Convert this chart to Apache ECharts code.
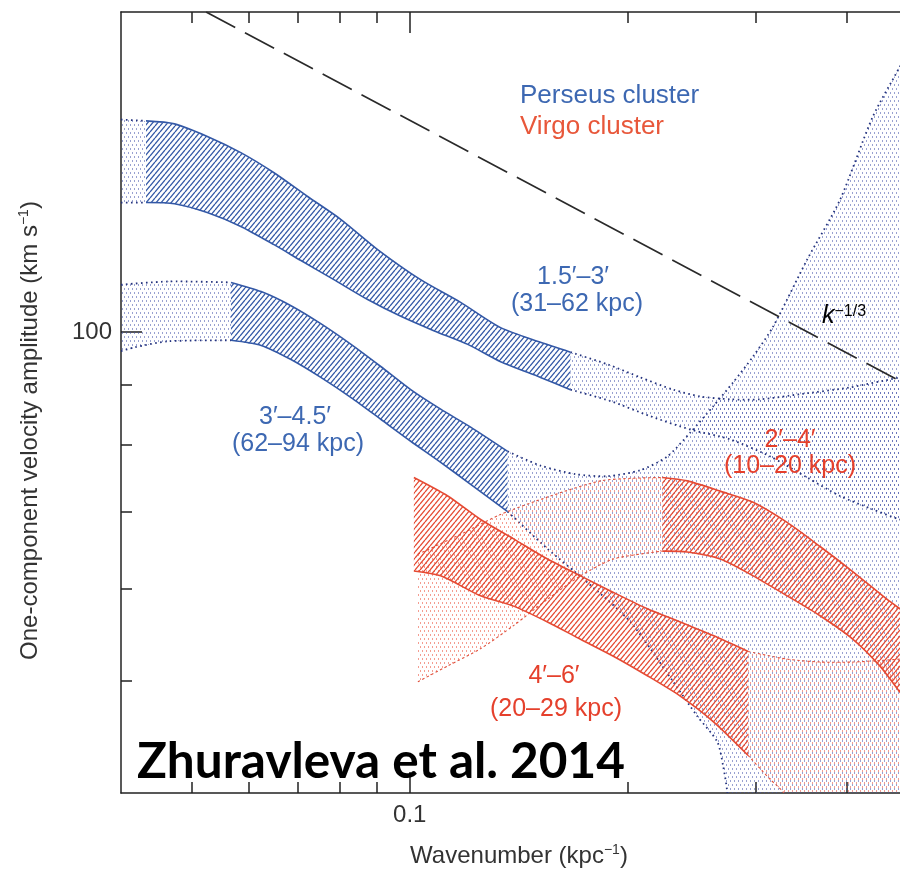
<!DOCTYPE html>
<html>
<head>
<meta charset="utf-8">
<script src="https://cdn.jsdelivr.net/npm/echarts@6/dist/echarts.min.js"></script>
<style>
  html, body { margin: 0; padding: 0; background: #ffffff; }
  #chart { width: 900px; height: 869px; }
</style>
</head>
<body>
<div id="chart"></div>
<script>
// Log-log axes: wavenumber k (kpc^-1) against one-component velocity amplitude (km/s)
const xRange = [0.04, 0.5];
const yRange = [40, 189];
const xMinorTicks = [0.05, 0.06, 0.07, 0.08, 0.09, 0.2, 0.3, 0.4];
const xMajorTicks = [0.1];
const xTickLabels = ['0.1'];
const yMinorTicks = [50, 60, 70, 80, 90];
const yMajorTicks = [100];
const yTickLabels = ['100'];

// Perseus 1.5'-3' (31-62 kpc): [k, amplitude] along the band edges
const p15LeftUpper = [[0.0400, 152.6], [0.0433, 152.2]];
const p15LeftLower = [[0.0400, 129.4], [0.0433, 129.4]];
const p15Upper = [[0.0433, 152.2], [0.0474, 151.3], [0.0527, 147.5], [0.0585, 142.9], [0.0650, 137.3], [0.0724, 130.9], [0.0804, 125.1], [0.0904, 117.8], [0.1035, 111.0], [0.1175, 106.1], [0.1334, 100.9], [0.1514, 98.0], [0.1665, 96.1]];
const p15Lower = [[0.0433, 129.4], [0.0474, 129.1], [0.0527, 126.8], [0.0585, 123.4], [0.0650, 119.0], [0.0708, 115.3], [0.0786, 111.0], [0.0875, 106.7], [0.0972, 103.2], [0.1079, 100.3], [0.1202, 97.6], [0.1334, 94.3], [0.1514, 91.4], [0.1665, 89.2]];
const p15RightUpper = [[0.1665, 96.1], [0.1873, 93.8], [0.2079, 91.4], [0.2307, 89.2], [0.2514, 88.0], [0.2764, 87.5], [0.3040, 87.5], [0.3450, 88.4], [0.4042, 89.6], [0.4735, 91.4], [0.5, 91.9]];
const p15RightLower = [[0.1665, 89.2], [0.1890, 87.2], [0.2146, 84.6], [0.2435, 82.4], [0.2764, 80.8], [0.3138, 78.1], [0.3528, 74.9], [0.3916, 72.2], [0.4346, 70.3], [0.4735, 68.9], [0.5, 68.3]];

// Perseus 3'-4.5' (62-94 kpc)
const p30LeftUpper = [[0.0400, 109.9], [0.0465, 110.6], [0.0567, 110.4]];
const p30LeftLower = [[0.0400, 96.3], [0.0417, 97.0], [0.0465, 98.2], [0.0567, 98.4]];
const p30Upper = [[0.0567, 110.4], [0.0624, 108.4], [0.0686, 105.4], [0.0754, 101.7], [0.0830, 97.6], [0.0912, 93.4], [0.1003, 89.2], [0.1103, 85.8], [0.1213, 82.8], [0.1364, 78.9]];
const p30Lower = [[0.0567, 98.4], [0.0624, 97.4], [0.0686, 94.7], [0.0754, 91.4], [0.0830, 87.8], [0.0912, 84.1], [0.1003, 80.5], [0.1103, 77.2], [0.1213, 73.9], [0.1364, 70.0]];
const p30RightUpper = [[0.1364, 78.9], [0.1514, 76.7], [0.1692, 75.4], [0.1873, 75.1], [0.2079, 76.0], [0.2264, 78.1], [0.2435, 81.9], [0.2619, 86.3], [0.2790, 90.5], [0.2973, 95.3], [0.3167, 101.1], [0.3528, 115.5], [0.3916, 130.1], [0.4346, 153.5], [0.4735, 169.5], [0.5, 180.6]];
const p30RightLower = [[0.1364, 70.0], [0.1548, 65.0], [0.1757, 60.8], [0.2014, 56.2], [0.2307, 49.9], [0.2490, 46.6], [0.2653, 44.3], [0.2703, 42.2], [0.2738, 40.1], [0.2750, 38.0], [0.5, 38.0]];

// Virgo 2'-4' (10-20 kpc)
const v20LeftUpper = [[0.1026, 64.3], [0.1175, 66.9], [0.1334, 69.6], [0.1563, 72.2], [0.1831, 74.4], [0.2033, 74.8], [0.2228, 74.9]];
const v20LeftLower = [[0.1026, 49.9], [0.1128, 51.5], [0.1252, 53.3], [0.1390, 55.8], [0.1548, 58.8], [0.1719, 61.6], [0.1908, 63.7], [0.2228, 64.7]];
const v20Upper = [[0.2228, 74.9], [0.2412, 74.4], [0.2678, 72.9], [0.2973, 71.3], [0.3311, 68.5], [0.3676, 65.3], [0.4081, 62.1], [0.4544, 58.8], [0.4735, 57.7], [0.5, 56.3]];
const v20Lower = [[0.2228, 64.7], [0.2412, 64.6], [0.2678, 63.7], [0.2973, 61.6], [0.3311, 59.2], [0.3676, 56.9], [0.4081, 54.3], [0.4443, 51.5], [0.4735, 48.9], [0.5, 46.8]];

// Virgo 4'-6' (20-29 kpc)
const v40Upper = [[0.1013, 74.9], [0.1128, 72.2], [0.1252, 68.9], [0.1390, 66.3], [0.1548, 63.7], [0.1719, 61.6], [0.1908, 59.6], [0.2125, 57.7], [0.2359, 56.2], [0.2619, 54.7], [0.2926, 53.0]];
const v40Lower = [[0.1013, 62.2], [0.1103, 61.6], [0.1252, 59.2], [0.1390, 58.0], [0.1548, 56.2], [0.1719, 54.3], [0.1908, 52.5], [0.2125, 50.5], [0.2359, 48.5], [0.2619, 46.1], [0.2926, 43.1]];
const v40RightUpper = [[0.2926, 53.0], [0.3311, 52.2], [0.3676, 51.9], [0.4081, 51.9], [0.4735, 52.2], [0.5, 52.4]];
const v40RightLower = [[0.2926, 43.1], [0.3138, 41.1], [0.3269, 40.1], [0.3343, 39.2], [0.5, 39.2]];

// Kolmogorov k^-1/3 reference line
const refK = [0.0524, 0.5];
const refAmp = [189, 89.1];

const LOG = Math.log10;
const BLUE = '#3358a6';
const BLUE_DOT = '#24337e';
const RED = '#e54a33';
const RED_DOT = '#e0503c';
const FONT = '"Liberation Sans", Arial, Helvetica, sans-serif';

// diagonal stripes, rising to the right
function hatchPattern(color) {
  const w = 5, h = 6;
  const c = document.createElement('canvas');
  c.width = w; c.height = h;
  const g = c.getContext('2d');
  g.strokeStyle = color;
  g.lineWidth = 1.3;
  for (const o of [-w, 0, w]) {
    g.beginPath(); g.moveTo(o, h); g.lineTo(o + w, 0); g.stroke();
  }
  return { image: c, repeat: 'repeat' };
}

// light stippling for the extrapolated ranges
function dotPattern(color, ox, oy) {
  const s = 8;
  const c = document.createElement('canvas');
  c.width = s; c.height = s;
  const g = c.getContext('2d');
  g.fillStyle = color;
  const pts = [[0, 0], [4, 0], [2, 4], [6, 4]];
  for (const p of pts) g.fillRect((p[0] + ox) % s, (p[1] + oy) % s, 1, 2);
  return { image: c, repeat: 'repeat' };
}

const blueHatch = hatchPattern(BLUE);
const redHatch = hatchPattern(RED);
const blueDots = dotPattern('rgba(70,86,172,0.55)', 0, 0);
const redDots = dotPattern('rgba(236,92,72,0.6)', 2, 2);

const solidBlue = { color: BLUE, width: 1.6 };
const solidRed = { color: RED, width: 1.6 };
const dottedBlue = { color: BLUE_DOT, width: 1.8, dash: [1.6, 3.4] };
const dottedRed = { color: RED_DOT, width: 1.1, dash: [2.5, 2.5] };

function regionSeries(upper, lower, fill, edge, z) {
  return {
    type: 'custom',
    coordinateSystem: 'cartesian2d',
    silent: true,
    clip: true,
    z: z,
    data: [[LOG(upper[0][0]), LOG(upper[0][1])]],
    renderItem: function (params, api) {
      const toPx = p => api.coord([LOG(p[0]), LOG(p[1])]);
      const up = upper.map(toPx);
      const lo = lower.map(toPx);
      const edgeStyle = {
        fill: null, stroke: edge.color, lineWidth: edge.width,
        lineDash: edge.dash || null, lineCap: 'butt'
      };
      return {
        type: 'group',
        children: [
          { type: 'polygon', shape: { points: up.concat(lo.slice().reverse()) }, style: { fill: fill, stroke: null } },
          { type: 'polyline', shape: { points: up, smooth: 0.25 }, style: edgeStyle },
          { type: 'polyline', shape: { points: lo, smooth: 0.25 }, style: edgeStyle }
        ]
      };
    }
  };
}

function tickFormatter(values, labels) {
  return function (v) {
    const i = values.findIndex(t => Math.abs(LOG(t) - v) < 1e-6);
    return i >= 0 ? labels[i] : '';
  };
}

const axisColor = '#222222';
const textColor = '#333333';

function xAxisDef(position, ticks, len, showLine, showLabel) {
  return {
    type: 'value', position: position,
    min: LOG(xRange[0]), max: LOG(xRange[1]),
    axisLine: { show: showLine, lineStyle: { color: axisColor, width: 1.5 } },
    axisTick: { show: true, inside: true, length: len, customValues: ticks.map(LOG), lineStyle: { color: axisColor, width: 1.5 } },
    axisLabel: {
      show: showLabel, customValues: xMajorTicks.map(LOG), formatter: tickFormatter(xMajorTicks, xTickLabels),
      fontFamily: FONT, fontSize: 24, color: textColor, margin: 10
    },
    splitLine: { show: false }
  };
}

function yAxisDef(ticks, len, showLine, showLabel) {
  return {
    type: 'value', position: 'left',
    min: LOG(yRange[0]), max: LOG(yRange[1]),
    axisLine: { show: showLine, lineStyle: { color: axisColor, width: 1.5 } },
    axisTick: { show: true, inside: true, length: len, customValues: ticks.map(LOG), lineStyle: { color: axisColor, width: 1.5 } },
    axisLabel: {
      show: showLabel, customValues: yMajorTicks.map(LOG), formatter: tickFormatter(yMajorTicks, yTickLabels),
      fontFamily: FONT, fontSize: 24, color: textColor, margin: 9
    },
    splitLine: { show: false }
  };
}

const xAxes = [
  xAxisDef('bottom', xMinorTicks, 11, true, true),
  xAxisDef('bottom', xMajorTicks, 21, false, false),
  xAxisDef('top', xMinorTicks, 11, true, false),
  xAxisDef('top', xMajorTicks, 21, false, false)
];
xAxes[0].name = 'Wavenumber (kpc{sup|\u22121})';
xAxes[0].nameLocation = 'middle';
xAxes[0].nameGap = 50;
xAxes[0].nameTextStyle = {
  fontFamily: FONT, fontSize: 24, color: textColor, lineHeight: 26,
  rich: { sup: { fontFamily: FONT, fontSize: 14, color: textColor, verticalAlign: 'top', lineHeight: 14 } }
};

const yAxes = [
  yAxisDef(yMinorTicks, 11, true, true),
  yAxisDef(yMajorTicks, 21, false, false)
];
yAxes[0].name = 'One-component velocity amplitude (km s{sup|\u22121})';
yAxes[0].nameLocation = 'middle';
yAxes[0].nameGap = 78;
yAxes[0].nameTextStyle = {
  fontFamily: FONT, fontSize: 24, color: textColor, lineHeight: 26, padding: [0, 56, 0, 0],
  rich: { sup: { fontFamily: FONT, fontSize: 14, color: textColor, verticalAlign: 'top', lineHeight: 14 } }
};

const series = [
  regionSeries(p30RightUpper, p30RightLower, blueDots, dottedBlue, 1),
  regionSeries(p15RightUpper, p15RightLower, blueDots, dottedBlue, 2),
  regionSeries(p15LeftUpper, p15LeftLower, blueDots, dottedBlue, 2),
  regionSeries(p30LeftUpper, p30LeftLower, blueDots, dottedBlue, 2),
  regionSeries(v20LeftUpper, v20LeftLower, redDots, dottedRed, 3),
  regionSeries(v40RightUpper, v40RightLower, redDots, dottedRed, 3),
  regionSeries(p15Upper, p15Lower, blueHatch, solidBlue, 4),
  regionSeries(p30Upper, p30Lower, blueHatch, solidBlue, 4),
  regionSeries(v20Upper, v20Lower, redHatch, solidRed, 5),
  regionSeries(v40Upper, v40Lower, redHatch, solidRed, 5),
  {
    type: 'line', silent: true, z: 6, symbol: 'none',
    data: refK.map((k, i) => [LOG(k), LOG(refAmp[i])]),
    lineStyle: { color: '#2a2a2a', width: 1.7, type: [33, 11] }
  }
];

function label(x, y, text, color, size) {
  return {
    type: 'text', x: x, y: y, silent: true, z: 10,
    style: { text: text, fill: color, font: size + 'px ' + FONT, textAlign: 'center', textVerticalAlign: 'middle' }
  };
}

const PERSEUS_TXT = '#3d68b2';
const VIRGO_TXT = '#e8573a';
const RED_TXT = '#e5402c';

const graphics = [
  { type: 'text', x: 520, y: 96, silent: true, z: 10,
    style: { text: 'Perseus cluster', fill: PERSEUS_TXT, font: '26px ' + FONT, textAlign: 'left', textVerticalAlign: 'middle' } },
  { type: 'text', x: 520, y: 127, silent: true, z: 10,
    style: { text: 'Virgo cluster', fill: VIRGO_TXT, font: '26px ' + FONT, textAlign: 'left', textVerticalAlign: 'middle' } },
  label(573, 277, '1.5\u2032\u20133\u2032', PERSEUS_TXT, 25),
  label(577, 304, '(31\u201362 kpc)', PERSEUS_TXT, 25),
  label(295, 417, '3\u2032\u20134.5\u2032', PERSEUS_TXT, 25),
  label(298, 444, '(62\u201394 kpc)', PERSEUS_TXT, 25),
  label(790, 440, '2\u2032\u20134\u2032', RED_TXT, 25),
  label(790, 466, '(10\u201320 kpc)', RED_TXT, 25),
  label(554, 676, '4\u2032\u20136\u2032', RED_TXT, 25),
  label(556, 709, '(20\u201329 kpc)', RED_TXT, 25),
  { type: 'text', x: 822, y: 316, silent: true, z: 10,
    style: {
      text: '{k|k}{s|\u22121/3}', textAlign: 'left', textVerticalAlign: 'middle',
      rich: {
        k: { fontFamily: FONT, fontStyle: 'italic', fontSize: 25, lineHeight: 25, color: '#333' },
        s: { fontFamily: FONT, fontSize: 16, lineHeight: 16, color: '#333', verticalAlign: 'top' }
      }
    } },
  { type: 'text', x: 137, y: 762, silent: true, z: 10,
    style: { text: 'Zhuravleva et al. 2014', fill: '#000000', font: 'bold 49.5px Lato, "Open Sans", sans-serif', textAlign: 'left', textVerticalAlign: 'middle' } }
];

const chart = echarts.init(document.getElementById('chart'), null, { renderer: 'canvas' });
chart.setOption({
  backgroundColor: '#ffffff',
  animation: false,
  grid: { left: 121, top: 12, right: -17, bottom: 76, containLabel: false, outerBoundsMode: 'none' },
  xAxis: xAxes,
  yAxis: yAxes,
  series: series,
  graphic: graphics
});
</script>
</body>
</html>
